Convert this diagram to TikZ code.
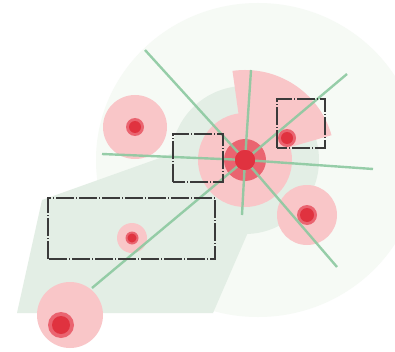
\documentclass[tikz,border=0pt]{standalone}
\usetikzlibrary{calc}
\definecolor{bgpale}{HTML}{F6FAF5}
\definecolor{bggreen}{HTML}{E3EEE5}
\definecolor{pinkl}{HTML}{F9C6C8}
\definecolor{redmid}{HTML}{EA6470}
\definecolor{reddark}{HTML}{E0323F}
\definecolor{raygreen}{HTML}{8CC9A0}
\definecolor{boxgray}{HTML}{3A3A3A}
\tikzset{
  halo/.style={circle,fill=pinkl,inner sep=0pt,minimum size=#1},
  ringc/.style={circle,fill=redmid,inner sep=0pt,minimum size=#1},
  core/.style={circle,fill=reddark,inner sep=0pt,minimum size=#1},
  ray/.style={draw=raygreen,line width=2.4pt,opacity=0.9},
  zonebox/.style={draw=boxgray,line width=1.3pt,dash pattern=on 18pt off 2pt on 1pt off 2pt}
}
\begin{document}
\begin{tikzpicture}[x=1pt,y=1pt]
\useasboundingbox (0,0) rectangle (395,351);
\fill[white] (0,0) rectangle (395,351);
% pale background
\fill[bgpale] (258,191) ellipse[x radius=162,y radius=157];
% green zone
\fill[bggreen] (17,38) -- (42,151) -- (185,202) -- (262,151) -- (213,38) -- cycle;
\fill[bggreen] (245,191) circle[radius=74];
% pink wedge
\fill[pinkl] (245,191) -- ++(16:90) arc[start angle=16,end angle=98,radius=90] -- cycle;
% halos
\node[halo=94pt] (hc) at (245,191) {};
\node[halo=64pt] (htl) at (135,224) {};
\node[halo=30pt] (hbox) at (132,113) {};
\node[halo=66pt] (hbl) at (70,36) {};
\node[halo=60pt] (hr) at (307,136) {};
% rings
\node[ringc=42pt] (rc) at (245,191) {};
\node[ringc=18pt] (rtl) at (135,224) {};
\node[ringc=13pt] (rbox) at (132,113) {};
\node[ringc=26pt] (rbl) at (61,26) {};
\node[ringc=20pt] (rr) at (307,136) {};
\node[ringc=18pt] (rtr) at (287,213) {};
% ray end points
\coordinate (e1) at (145,301);
\coordinate (e2) at (251,281);
\coordinate (e3) at (347,277);
\coordinate (e4) at (102,197);
\coordinate (e5) at (373,182);
\coordinate (e6) at (242,136);
\coordinate (e7) at (337,84);
\coordinate (e8) at (92,63);
% centre core
\node[core=20pt] (c) at (245,191) {};
\foreach \e in {e1,e2,e3,e4,e5,e6,e7,e8} \draw[ray] (c) -- (\e);
\node[core=20pt] at (245,191) {};
% cores
\node[core=12pt] (ktl) at (135,224) {};
\node[core=9pt] (kbox) at (132,113) {};
\node[core=18pt] (kbl) at (61,26) {};
\node[core=14pt] (kr) at (307,136) {};
\node[core=12pt] (ktr) at (287,213) {};
% boxes
\draw[zonebox] (173,169) rectangle (223,217);
\draw[zonebox] (277,203) rectangle (325,252);
\draw[zonebox] (48,92) rectangle (215,153);
\end{tikzpicture}
\end{document}
